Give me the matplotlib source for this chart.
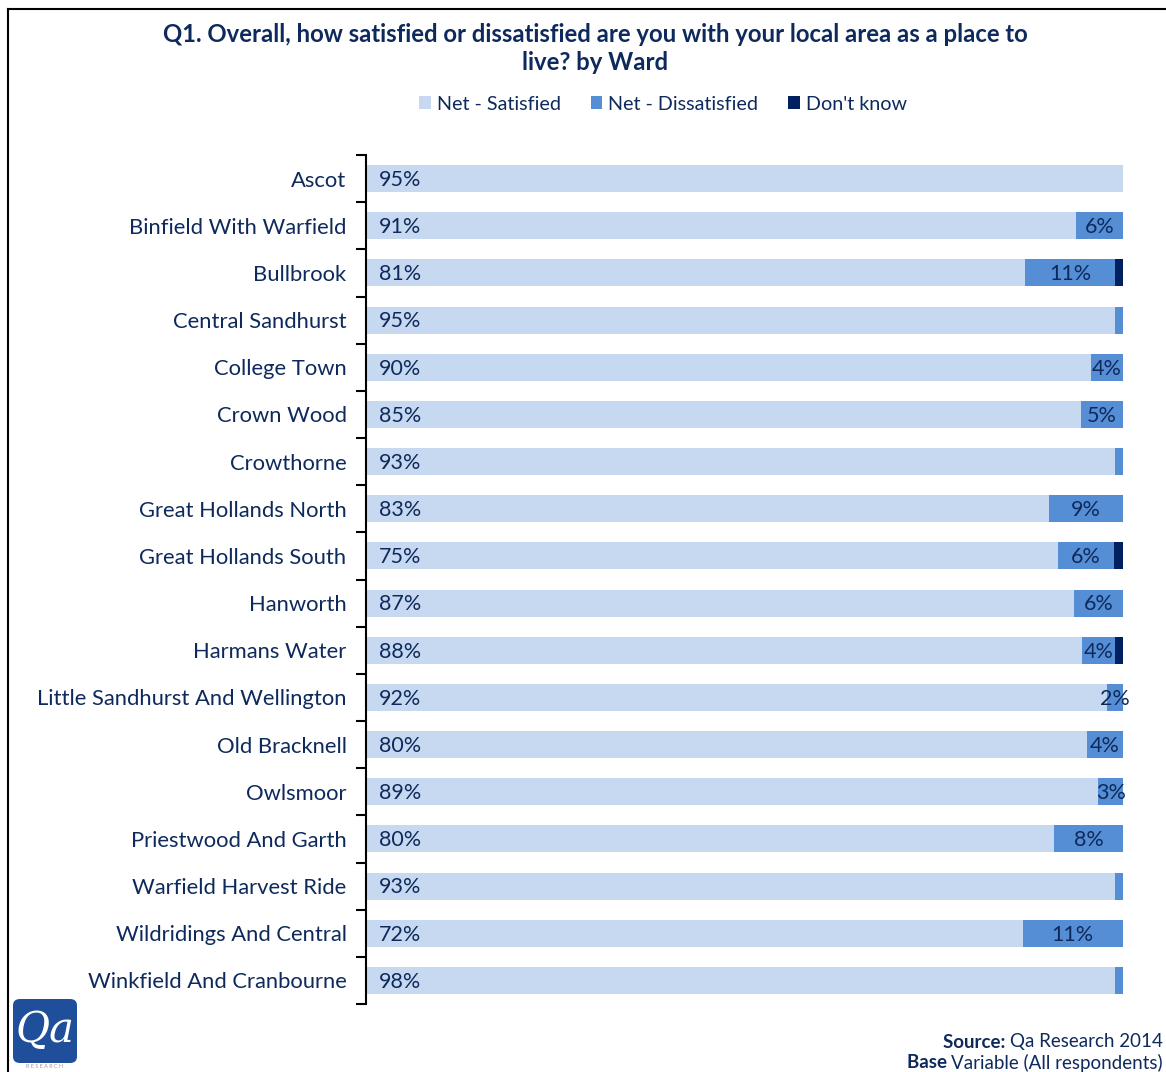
import matplotlib
matplotlib.use("Agg")
import matplotlib.pyplot as plt
from matplotlib.patches import FancyBboxPatch
from matplotlib.lines import Line2D
import numpy as np

plt.rcParams['font.family'] = ['Lato', 'DejaVu Sans']

wards = ["Ascot", "Binfield With Warfield", "Bullbrook", "Central Sandhurst",
         "College Town", "Crown Wood", "Crowthorne", "Great Hollands North",
         "Great Hollands South", "Hanworth", "Harmans Water",
         "Little Sandhurst And Wellington", "Old Bracknell", "Owlsmoor",
         "Priestwood And Garth", "Warfield Harvest Ride",
         "Wildridings And Central", "Winkfield And Cranbourne"]
satisfied = [95, 91, 81, 95, 90, 85, 93, 83, 75, 87, 88, 92, 80, 89, 80, 93, 72, 98]
dissatisfied = [0, 6, 11, 1, 4, 5, 1, 9, 6, 6, 4, 2, 4, 3, 8, 1, 11, 1]
dont_know = [0, 0, 1, 0, 0, 0, 0, 0, 1, 0, 1, 0, 0, 0, 0, 0, 0, 0]

series = ["Net - Satisfied", "Net - Dissatisfied", "Don't know"]
colors = ["#c6d9f1", "#558ed5", "#002060"]
text_col = "#0e2a5c"

sat = np.array(satisfied, float)
dis = np.array(dissatisfied, float)
dk = np.array(dont_know, float)
total = sat + dis + dk
# 100% stacked: each bar is scaled to its own total
s_w = sat / total
d_w = dis / total
k_w = dk / total

fig = plt.figure(figsize=(11.66, 10.72), dpi=100)
ax = fig.add_axes([366 / 1166, 1 - 1004 / 1072, 757 / 1166, 849 / 1072])

y = np.arange(len(wards))
h = 0.57
ax.barh(y, s_w, height=h, color=colors[0], label=series[0])
ax.barh(y, d_w, left=s_w, height=h, color=colors[1], label=series[1])
ax.barh(y, k_w, left=s_w + d_w, height=h, color=colors[2], label=series[2])

for i in range(len(wards)):
    ax.text(0.017, i + 0.03, f"{satisfied[i]}%", ha='left', va='center',
            fontsize=15.5, color=text_col)
    if dissatisfied[i] >= 2:
        ax.text(s_w[i] + d_w[i] / 2, i + 0.03, f"{dissatisfied[i]}%", ha='center',
                va='center', fontsize=15.5, color=text_col, clip_on=False)

ax.set_xlim(0, 1)
ax.set_ylim(len(wards) - 0.5, -0.5)
ax.set_xticks([])
ax.set_yticks(y)
ax.set_yticklabels(wards, fontsize=15.8, color=text_col)
ax.set_yticks(np.arange(len(wards) + 1) - 0.5, minor=True)
ax.tick_params(axis='y', which='major', length=0, pad=14)
ax.tick_params(axis='y', which='minor', length=7, width=1.5, color='black', direction='out')
for side in ['top', 'right', 'bottom']:
    ax.spines[side].set_visible(False)
ax.spines['left'].set_linewidth(1.5)

fig.text(595 / 1166, 1 - 34 / 1072, "Q1. Overall, how satisfied or dissatisfied are you with your local area as a place to",
         ha='center', va='center', fontsize=17.2, fontweight='bold', color=text_col)
fig.text(595 / 1166, 1 - 63 / 1072, "live? by Ward",
         ha='center', va='center', fontsize=17.2, fontweight='bold', color=text_col)

leg = fig.legend(loc='center', bbox_to_anchor=(663 / 1166, 1 - 104 / 1072), ncol=3,
                 frameon=False, fontsize=14.2, handlelength=0.6, handleheight=0.6,
                 handletextpad=0.3, columnspacing=1.5)
for t in leg.get_texts():
    t.set_color(text_col)

# outer frame
fig.add_artist(Line2D([8 / 1166, 8 / 1166], [0, 1 - 9 / 1072], color='black', lw=1.5))
fig.add_artist(Line2D([8 / 1166, 1], [1 - 9 / 1072, 1 - 9 / 1072], color='black', lw=1.5))

# logo
fig.add_artist(FancyBboxPatch((13 / 1166, 1 - 1063 / 1072), 64 / 1166, 64 / 1072,
                              boxstyle="round,pad=0,rounding_size=0.006",
                              facecolor="#1f4f9a", edgecolor='none'))
fig.text(45 / 1166, 1 - 1030 / 1072, "Qa", ha='center', va='center', fontsize=30,
         color='white', family='DejaVu Serif', style='italic')
fig.text(45 / 1166, 1 - 1067 / 1072, "R E S E A R C H", ha='center', va='center',
         fontsize=4, color='#999999')

src = fig.text(1163 / 1166, 1 - 1042 / 1072, "Qa Research 2014", ha='right', va='center',
               fontsize=13.5, color=text_col)
ax.annotate("Source: ", xy=(0, 0.5), xycoords=src, ha='right', va='center',
            fontsize=13.5, fontweight='bold', color=text_col, annotation_clip=False)
base = fig.text(1163 / 1166, 1 - 1063 / 1072, "Variable (All respondents)", ha='right',
                va='center', fontsize=13.5, color=text_col)
ax.annotate("Base ", xy=(0, 0.5), xycoords=base, ha='right', va='center',
            fontsize=13.5, fontweight='bold', color=text_col, annotation_clip=False)

fig.savefig("out.png", dpi=100)
